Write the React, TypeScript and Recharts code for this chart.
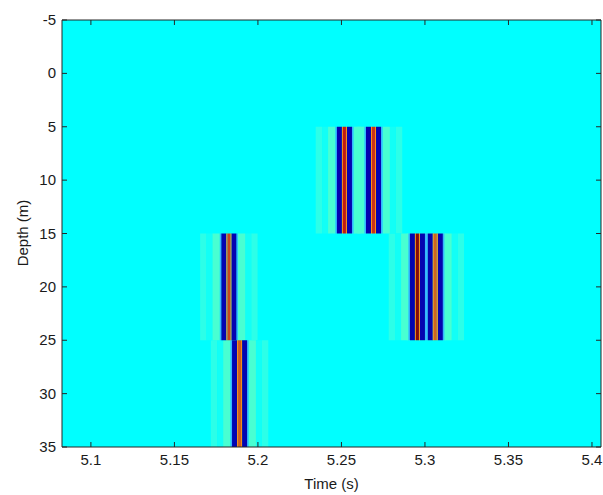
import React from "react";
import { ScatterChart, Scatter, XAxis, YAxis, CartesianGrid, ReferenceArea } from "recharts";

const timeTicks = [5.1, 5.15, 5.2, 5.25, 5.3, 5.35, 5.4];
const depthTicks = [-5, 0, 5, 10, 15, 20, 25, 30, 35];

// wavelet arrivals: time (s), depth span (m) and colour at the peak
const eventTimes = [5.2518, 5.2692, 5.1826, 5.2955, 5.3062, 5.189];
const eventTops = [5, 5, 15, 15, 15, 25];
const eventBottoms = [15, 15, 25, 25, 25, 35];
const peakColors = ["#c41a12", "#c8321a", "#c8461e", "#8a0a0a", "#d2641e", "#d25a1e"];

// half profile of a wavelet, outermost band first: distance from the peak (s)
const lobeOuter = [0.0172, 0.0134, 0.0098, 0.0054, 0.0045, 0.0015, 0.0009];
const lobeInner = [0.0134, 0.0098, 0.0054, 0.0045, 0.0015, 0.0009, 0];
const lobeColors = ["#2cffe8", "#12fff6", "#48ffd2", "#38b4ff", "#0404b0", "#ff8c10", "peak"];

const AXIS = "#262626";
const FONT = "'Liberation Sans', Arial, sans-serif";

type Stripe = { x1: number; x2: number; y1: number; y2: number; fill: string };

const stripes: Stripe[] = [];
lobeColors.forEach((c, li) => {
  eventTimes.forEach((t, ei) => {
    const fill = c === "peak" ? peakColors[ei] : c;
    const o = lobeOuter[li];
    const i = lobeInner[li];
    const y1 = eventTops[ei];
    const y2 = eventBottoms[ei];
    if (i === 0) {
      stripes.push({ x1: t - o, x2: t + o, y1, y2, fill });
    } else {
      stripes.push({ x1: t - o, x2: t - i, y1, y2, fill });
      stripes.push({ x1: t + i, x2: t + o, y1, y2, fill });
    }
  });
});

const events = eventTimes.map((t, i) => ({ time: t, depth: (eventTops[i] + eventBottoms[i]) / 2 }));

const BottomTick = (props: any) => {
  const { x, y, payload } = props;
  return (
    <g>
      <line x1={x} x2={x} y1={y} y2={y - 5} stroke={AXIS} />
      <text x={x} y={y + 18} textAnchor="middle" fontSize={15} fill="#1a1a1a" fontFamily={FONT}>
        {String(payload.value)}
      </text>
    </g>
  );
};

const LeftTick = (props: any) => {
  const { x, y, payload } = props;
  return (
    <g>
      <line x1={x} x2={x + 5} y1={y} y2={y} stroke={AXIS} />
      <text x={x - 6} y={y + 5} textAnchor="end" fontSize={15} fill="#1a1a1a" fontFamily={FONT}>
        {String(payload.value)}
      </text>
    </g>
  );
};

const TopTick = (props: any) => {
  const { x, y } = props;
  return <line x1={x} x2={x} y1={y} y2={y + 5} stroke={AXIS} />;
};

const RightTick = (props: any) => {
  const { x, y } = props;
  return <line x1={x} x2={x - 5} y1={y} y2={y} stroke={AXIS} />;
};

export default function App() {
  return (
    <div style={{ position: "absolute", left: 0, top: 0, width: 603, height: 495, background: "#fff" }}>
      <ScatterChart width={603} height={495} margin={{ top: 19, right: 1, bottom: 0, left: 0 }}>
        <CartesianGrid horizontal={false} vertical={false} fill="#00ffff" xAxisId="b" yAxisId="l" />
        <XAxis
          xAxisId="b"
          dataKey="time"
          type="number"
          domain={[5.0827, 5.4054]}
          allowDataOverflow
          ticks={timeTicks}
          height={48}
          tickSize={0}
          tickMargin={0}
          tickLine={false}
          stroke={AXIS}
          tick={<BottomTick />}
          label={{ value: "Time (s)", position: "insideBottom", offset: 6, fontSize: 15, fill: "#1a1a1a", fontFamily: FONT }}
        />
        <XAxis
          xAxisId="t"
          dataKey="time"
          orientation="top"
          type="number"
          domain={[5.0827, 5.4054]}
          allowDataOverflow
          ticks={timeTicks}
          height={1}
          tickSize={0}
          tickMargin={0}
          tickLine={false}
          stroke={AXIS}
          tick={<TopTick />}
        />
        <YAxis
          yAxisId="l"
          dataKey="depth"
          type="number"
          domain={[-5, 35]}
          reversed
          allowDataOverflow
          ticks={depthTicks}
          width={62}
          tickSize={0}
          tickMargin={0}
          tickLine={false}
          stroke={AXIS}
          tick={<LeftTick />}
        />
        <YAxis
          yAxisId="r"
          dataKey="depth"
          orientation="right"
          type="number"
          domain={[-5, 35]}
          reversed
          allowDataOverflow
          ticks={depthTicks}
          width={1}
          tickSize={0}
          tickMargin={0}
          tickLine={false}
          stroke={AXIS}
          tick={<RightTick />}
        />
        <Scatter
          data={events}
          xAxisId="b"
          yAxisId="l"
          shape={() => <g />}
          isAnimationActive={false}
        />
        {stripes.map((s, k) => (
          <ReferenceArea
            key={k}
            xAxisId="b"
            yAxisId="l"
            x1={s.x1}
            x2={s.x2}
            y1={s.y1}
            y2={s.y2}
            fill={s.fill}
            fillOpacity={1}
            stroke="none"
            ifOverflow="hidden"
          />
        ))}
      </ScatterChart>
      <div
        style={{
          position: "absolute",
          left: 22,
          top: 233,
          transform: "translate(-50%, -50%) rotate(-90deg)",
          fontFamily: FONT,
          fontSize: 15,
          color: "#1a1a1a",
          whiteSpace: "nowrap",
        }}
      >
        Depth (m)
      </div>
    </div>
  );
}
